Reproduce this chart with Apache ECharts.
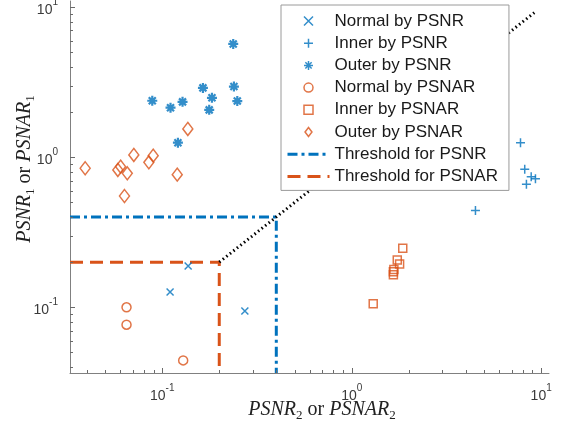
<!DOCTYPE html>
<html><head><meta charset="utf-8">
<script src="https://cdn.jsdelivr.net/npm/echarts@6/dist/echarts.min.js"></script>
<style>html,body{margin:0;padding:0;background:#fff}#c{width:564px;height:430px}</style>
</head><body><div id="c"></div>
<script>
// ---- data ----
const xRange = [0.0326, 11];
const yRange = [0.0365, 11];
const seriesNames = ['Normal by PSNR','Inner by PSNR','Outer by PSNR','Normal by PSNAR','Inner by PSNAR','Outer by PSNAR','Threshold for PSNR','Threshold for PSNAR'];
const normalPSNR = [[0.137,0.1885],[0.110,0.1265],[0.273,0.0945]];
const innerPSNR = [[7.78,1.25],[8.19,0.832],[8.86,0.742],[9.33,0.720],[8.36,0.661],[4.50,0.441]];
const outerPSNR = [[0.0886,2.38],[0.1106,2.14],[0.128,2.34],[0.121,1.25],[0.164,2.90],[0.183,2.49],[0.177,2.07],[0.237,5.69],[0.239,2.96],[0.249,2.37]];
const normalPSNAR = [[0.0648,0.100],[0.0648,0.0766],[0.129,0.0443]];
const innerPSNAR = [[1.86,0.248],[1.74,0.2067],[1.79,0.1944],[1.67,0.179],[1.66,0.1727],[1.66,0.165],[1.299,0.1057]];
const outerPSNAR = [[0.0392,0.845],[0.0583,0.823],[0.0603,0.866],[0.0654,0.782],[0.0632,0.552],[0.0708,1.036],[0.085,0.926],[0.0896,1.025],[0.120,0.766],[0.1365,1.544]];
const thrPSNR = 0.4;
const thrPSNAR = 0.2;
const diagonal = [[0.2,0.2],[9.2,9.2]];
const majorTicks = [0.1, 1, 10];
const xMinorTicks = [0.04,0.05,0.06,0.07,0.08,0.09,0.2,0.3,0.4,0.5,0.6,0.7,0.8,0.9,2,3,4,5,6,7,8,9];
const yMinorTicks = [0.04,0.05,0.06,0.07,0.08,0.09,0.2,0.3,0.4,0.5,0.6,0.7,0.8,0.9,2,3,4,5,6,7,8,9];

// ---- styles ----
const BLUE = '#0072BD', ORANGE = '#D95319';
const SANS = '"Liberation Sans", Arial, Helvetica, sans-serif';
const SERIF = '"Liberation Serif", "Times New Roman", serif';
const AXIS = '#808080';
const TICK = '#6a6a6a';
const LABEL = '#3a3a3a';

const chart = echarts.init(document.getElementById('c'), null, {renderer:'canvas'});

function tickLabel(v){
  const e = Math.log10(v); const r = Math.round(e);
  if (Math.abs(e - r) > 1e-6) return '';
  return '{b|10}{s|' + r + '}';
}
const tickRich = {
  b:{fontSize:14, lineHeight:20, verticalAlign:'bottom', fontFamily:SANS, color:LABEL},
  s:{fontSize:10, lineHeight:10, verticalAlign:'top', fontFamily:SANS, color:LABEL}
};
const nameRich = {
  i:{fontSize:20, fontStyle:'italic', fontFamily:SERIF, color:'#222', lineHeight:24},
  r:{fontSize:20, fontFamily:SERIF, color:'#222', lineHeight:24},
  s:{fontSize:13, fontFamily:SERIF, color:'#222', lineHeight:10, verticalAlign:'bottom'}
};

const markerPaths = {
  x: 'path://M0 0L10 10M10 0L0 10',
  plus: 'path://M5 0L5 10M0 5L10 5',
  star: 'path://M5 0L5 10M0 5L10 5M1.5 1.5L8.5 8.5M8.5 1.5L1.5 8.5',
  square: 'path://M0 0L10 0L10 10L0 10Z',
  diamond: 'path://M5 0L10 6.5L5 13L0 6.5Z'
};

function scatter(name, data, symbol, size, color, bw){
  return {name, type:'scatter', data, symbol, symbolSize:size, z:3,
    itemStyle:{color:'rgba(0,0,0,0)', borderColor:color, borderWidth:bw},
    emphasis:{disabled:true}};
}
function customTicks(data, vertical, len){
  return {type:'custom', silent:true, clip:false, z:6, data,
    renderItem:function(params, api){
      const p = api.coord([api.value(0), api.value(1)]);
      if (vertical) {
        const x = Math.round(p[0]) + 0.5;
        return {type:'line', shape:{x1:x, y1:p[1], x2:x, y2:p[1]-len}, style:{stroke:TICK, lineWidth:1}};
      }
      const y = Math.round(p[1]) + 0.5;
      return {type:'line', shape:{x1:p[0], y1:y, x2:p[0]+len, y2:y}, style:{stroke:TICK, lineWidth:1}};
    }};
}

const xMajorData = majorTicks.map(v=>[v, yRange[0]]);
const xMinorData = xMinorTicks.map(v=>[v, yRange[0]]);
const yMajorData = majorTicks.map(v=>[xRange[0], v]);
const yMinorData = yMinorTicks.map(v=>[xRange[0], v]);

const hidden = {color:'rgba(0,0,0,0)', borderColor:'rgba(0,0,0,0)', borderWidth:0};
const legendData = seriesNames.map((n, i) => i >= 6 ? {name:n, itemStyle:hidden} : {name:n});

const option = {
  animation:false,
  backgroundColor:'#fff',
  grid:{left:70, right:15, top:1, bottom:57, containLabel:false, outerBoundsMode:'none'},
  xAxis:{type:'log', logBase:10, min:xRange[0], max:xRange[1],
    axisLine:{onZero:false, lineStyle:{color:AXIS, width:1}},
    axisTick:{show:false}, splitLine:{show:false}, minorTick:{show:false},
    axisLabel:{formatter:tickLabel, rich:tickRich, margin:10, showMinLabel:true, showMaxLabel:true},
    name:'{i|PSNR}{s|2}{r| or }{i|PSNAR}{s|2}', nameLocation:'middle', nameGap:25, nameMoveOverlap:false,
    nameTextStyle:{rich:nameRich, padding:[0,0,0,25]}
  },
  yAxis:{type:'log', logBase:10, min:yRange[0], max:yRange[1],
    axisLine:{onZero:false, lineStyle:{color:AXIS, width:1}},
    axisTick:{show:false}, splitLine:{show:false}, minorTick:{show:false},
    axisLabel:{formatter:tickLabel, rich:tickRich, margin:12},
    name:'{i|PSNR}{s|1}{r| or }{i|PSNAR}{s|1}', nameLocation:'middle', nameGap:33, nameMoveOverlap:false,
    nameTextStyle:{rich:nameRich, padding:[0,0,0,36]}
  },
  legend:{
    orient:'vertical', left:281, top:5,
    padding:[7,11,5,5], itemGap:4.2, itemWidth:42, itemHeight:9,
    backgroundColor:'#fff', borderColor:'#9a9a9a', borderWidth:1, borderRadius:0,
    textStyle:{fontFamily:SANS, fontSize:17, color:'#1a1a1a', lineHeight:18},
    itemStyle:{borderWidth:1.5},
    lineStyle:{width:3},
    data:legendData,
    selectedMode:false
  },
  series:[
    scatter(seriesNames[0], normalPSNR, markerPaths.x, 7, BLUE, 1.5),
    scatter(seriesNames[1], innerPSNR, markerPaths.plus, 9, BLUE, 1.5),
    scatter(seriesNames[2], outerPSNR, markerPaths.star, 10, BLUE, 2.2),
    scatter(seriesNames[3], normalPSNAR, 'circle', 9, ORANGE, 1.5),
    scatter(seriesNames[4], innerPSNAR, markerPaths.square, 8, ORANGE, 1.5),
    scatter(seriesNames[5], outerPSNAR, markerPaths.diamond, [10,13], ORANGE, 1.5),
    {name:seriesNames[6], type:'line', symbol:'none', showSymbol:false, z:2,
      data:[[xRange[0], thrPSNR],[thrPSNR, thrPSNR],[thrPSNR, yRange[0]]],
      lineStyle:{color:BLUE, width:3, type:[10,4,3,4]}, itemStyle:{color:BLUE}},
    {name:seriesNames[7], type:'line', symbol:'none', showSymbol:false, z:2,
      data:[[xRange[0], thrPSNAR],[thrPSNAR, thrPSNAR],[thrPSNAR, yRange[0]]],
      lineStyle:{color:ORANGE, width:3, type:[13,7]}, itemStyle:{color:ORANGE}},
    {name:'diag', type:'line', symbol:'none', z:2, data:diagonal,
      lineStyle:{color:'#000', width:3, type:[1.5,3], cap:'butt'}},
    customTicks(xMajorData, true, 5),
    customTicks(xMinorData, true, 3),
    customTicks(yMajorData, false, 5),
    customTicks(yMinorData, false, 3)
  ]
};
chart.setOption(option);
</script></body></html>
